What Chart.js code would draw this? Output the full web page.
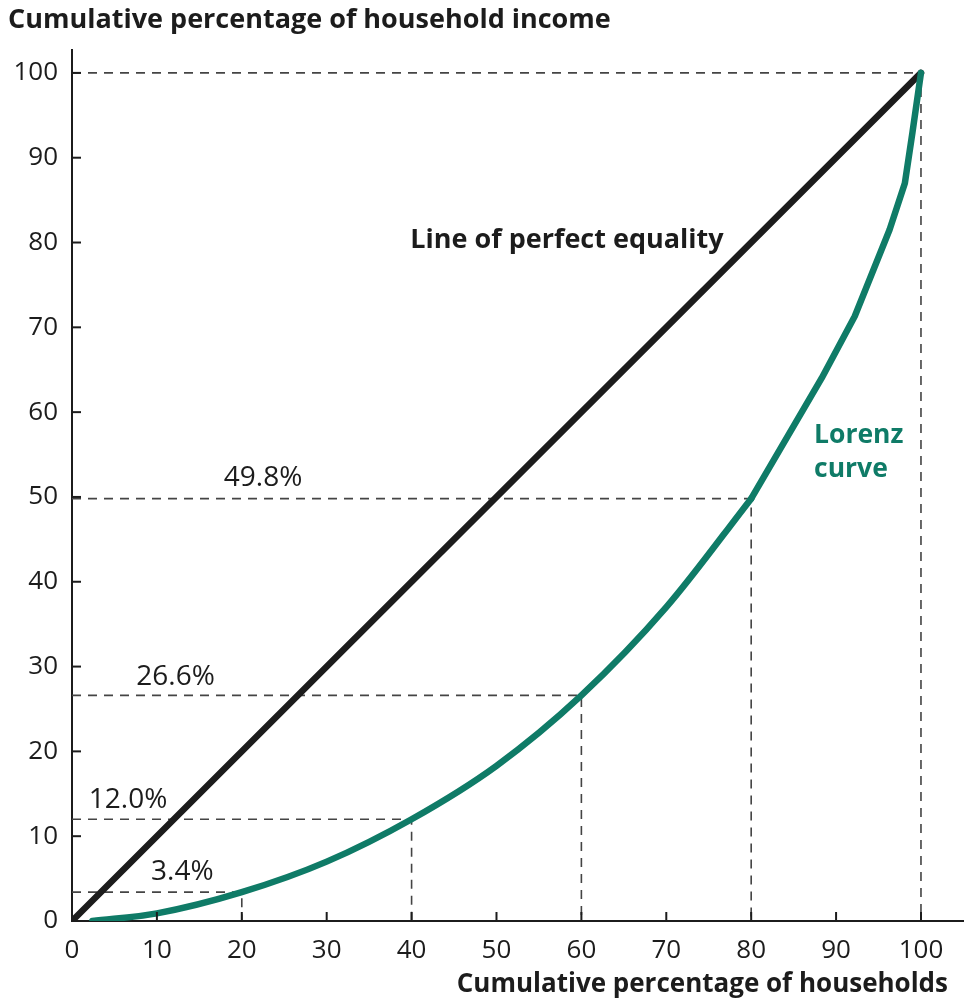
<!DOCTYPE html>
<html lang="en">
<head>
    <meta charset="UTF-8">
    <title>Lorenz curve</title>
    <script src="https://cdn.jsdelivr.net/npm/chart.js"></script>
    <style>
        html, body { margin: 0; padding: 0; background: #fff; }
        .chart-box { width: 965px; height: 1004px; position: relative; }
    </style>
</head>
<body>
    <div class="chart-box">
        <canvas id="lorenzChart"></canvas>
    </div>

    <script>
        // Data
        const equalityX = [0, 100];
        const equalityY = [0, 100];

        // smooth part of the Lorenz curve
        const lorenzLowX = [2.4, 10, 20, 30, 40, 50, 60, 70, 80];
        const lorenzLowY = [0, 0.9, 3.4, 7.0, 12.0, 18.3, 26.6, 37.0, 49.8];
        // top part, drawn as straight pieces
        const lorenzUpX = [80, 88.3, 92.2, 96.3, 98.1, 99, 100];
        const lorenzUpY = [49.8, 64.0, 71.3, 81.5, 87.0, 93.0, 100];

        // marked quintile points (households %, income %)
        const markX = [20, 40, 60, 80, 100];
        const markY = [3.4, 12.0, 26.6, 49.8, 100];
        const markLabels = ['3.4%', '12.0%', '26.6%', '49.8%'];
        // label anchors in data units
        const markLabelX = [13.0, 6.6, 12.2, 22.5];
        const markLabelY = [5.8, 14.3, 28.8, 52.2];

        const xTicks = [0, 10, 20, 30, 40, 50, 60, 70, 80, 90, 100];
        const yTicks = [0, 10, 20, 30, 40, 50, 60, 70, 80, 90, 100];

        const FONT = '"Open Sans", "Noto Sans", sans-serif';
        const TEAL = '#0f7b67';
        const INK = '#1c1c1c';

        const toPoints = (xs, ys) => xs.map((x, i) => ({ x: x, y: ys[i] }));

        // dashed guides: from y axis across to the point, then down to x axis
        const guideSets = markX.map((x, i) => ({
            data: [{ x: 0, y: markY[i] }, { x: x, y: markY[i] }, { x: x, y: 0 }],
            borderColor: '#444',
            borderWidth: 1.6,
            borderDash: [9, 7],
            pointRadius: 0,
            showLine: true,
            fill: false,
            order: 5
        }));

        const lorenzStyle = {
            borderColor: TEAL,
            borderWidth: 6.5,
            pointRadius: 0,
            showLine: true,
            borderCapStyle: 'round',
            borderJoinStyle: 'round',
            order: 0
        };

        // text, inner ticks and axis titles
        const annotate = {
            id: 'annotate',
            afterDatasetsDraw(chart) {
                const { ctx, scales: { x, y } } = chart;
                ctx.save();

                // inner tick marks
                ctx.strokeStyle = INK;
                ctx.lineWidth = 2;
                xTicks.slice(1).forEach(v => {
                    const px = x.getPixelForValue(v);
                    ctx.beginPath();
                    ctx.moveTo(px, y.bottom);
                    ctx.lineTo(px, y.bottom - 9);
                    ctx.stroke();
                });
                yTicks.slice(1).forEach(v => {
                    const py = y.getPixelForValue(v);
                    ctx.beginPath();
                    ctx.moveTo(x.left, py);
                    ctx.lineTo(x.left + 9, py);
                    ctx.stroke();
                });

                // percentage labels
                ctx.fillStyle = INK;
                ctx.font = '28px ' + FONT;
                ctx.textAlign = 'center';
                ctx.textBaseline = 'middle';
                markLabelX.forEach((lx, i) => {
                    ctx.fillText(markLabels[i], x.getPixelForValue(lx), y.getPixelForValue(markLabelY[i]));
                });

                // line labels
                ctx.font = 'bold 27px ' + FONT;
                ctx.fillText('Line of perfect equality', x.getPixelForValue(58.3), y.getPixelForValue(80.3));
                ctx.fillStyle = TEAL;
                ctx.textAlign = 'left';
                ctx.font = 'bold 26.5px ' + FONT;
                ctx.fillText('Lorenz', x.getPixelForValue(87.4), y.getPixelForValue(57.2));
                ctx.fillText('curve', x.getPixelForValue(87.4), y.getPixelForValue(53.3));

                // axis titles
                ctx.fillStyle = INK;
                ctx.font = 'bold 27px ' + FONT;
                ctx.textAlign = 'left';
                ctx.fillText('Cumulative percentage of household income', 8, 20);
                ctx.font = 'bold 26px ' + FONT;
                ctx.textAlign = 'right';
                ctx.fillText('Cumulative percentage of households', 948, 985);

                ctx.restore();
            }
        };

        const ctx = document.getElementById('lorenzChart').getContext('2d');
        const lorenzChart = new Chart(ctx, {
            type: 'scatter',
            data: {
                datasets: [
                    {
                        label: 'Line of perfect equality',
                        data: toPoints(equalityX, equalityY),
                        borderColor: INK,
                        borderWidth: 6.5,
                        pointRadius: 0,
                        showLine: true,
                        borderCapStyle: 'round',
                        order: 1
                    },
                    Object.assign({
                        label: 'Lorenz curve',
                        data: toPoints(lorenzLowX, lorenzLowY),
                        cubicInterpolationMode: 'monotone'
                    }, lorenzStyle),
                    Object.assign({
                        label: 'Lorenz curve (top)',
                        data: toPoints(lorenzUpX, lorenzUpY),
                        tension: 0
                    }, lorenzStyle),
                    ...guideSets
                ]
            },
            options: {
                responsive: true,
                maintainAspectRatio: false,
                animation: false,
                layout: { padding: { top: 50, right: 2, bottom: 0, left: 0 } },
                plugins: {
                    legend: { display: false },
                    tooltip: { enabled: false }
                },
                scales: {
                    x: {
                        type: 'linear',
                        min: 0,
                        max: 104.95,
                        grid: { display: false },
                        border: { display: true, color: INK, width: 2 },
                        afterBuildTicks: s => { s.ticks = xTicks.map(v => ({ value: v })); },
                        afterFit: s => { s.height = 83; },
                        ticks: {
                            padding: 6,
                            color: INK,
                            maxRotation: 0,
                            font: { family: FONT, size: 26 }
                        }
                    },
                    y: {
                        type: 'linear',
                        min: 0,
                        max: 102.7,
                        grid: { display: false },
                        border: { display: true, color: INK, width: 2 },
                        afterBuildTicks: s => { s.ticks = yTicks.map(v => ({ value: v })); },
                        afterFit: s => { s.width = 72; },
                        ticks: {
                            padding: 6,
                            color: INK,
                            font: { family: FONT, size: 26 }
                        }
                    }
                }
            },
            plugins: [annotate]
        });
    </script>
</body>
</html>
